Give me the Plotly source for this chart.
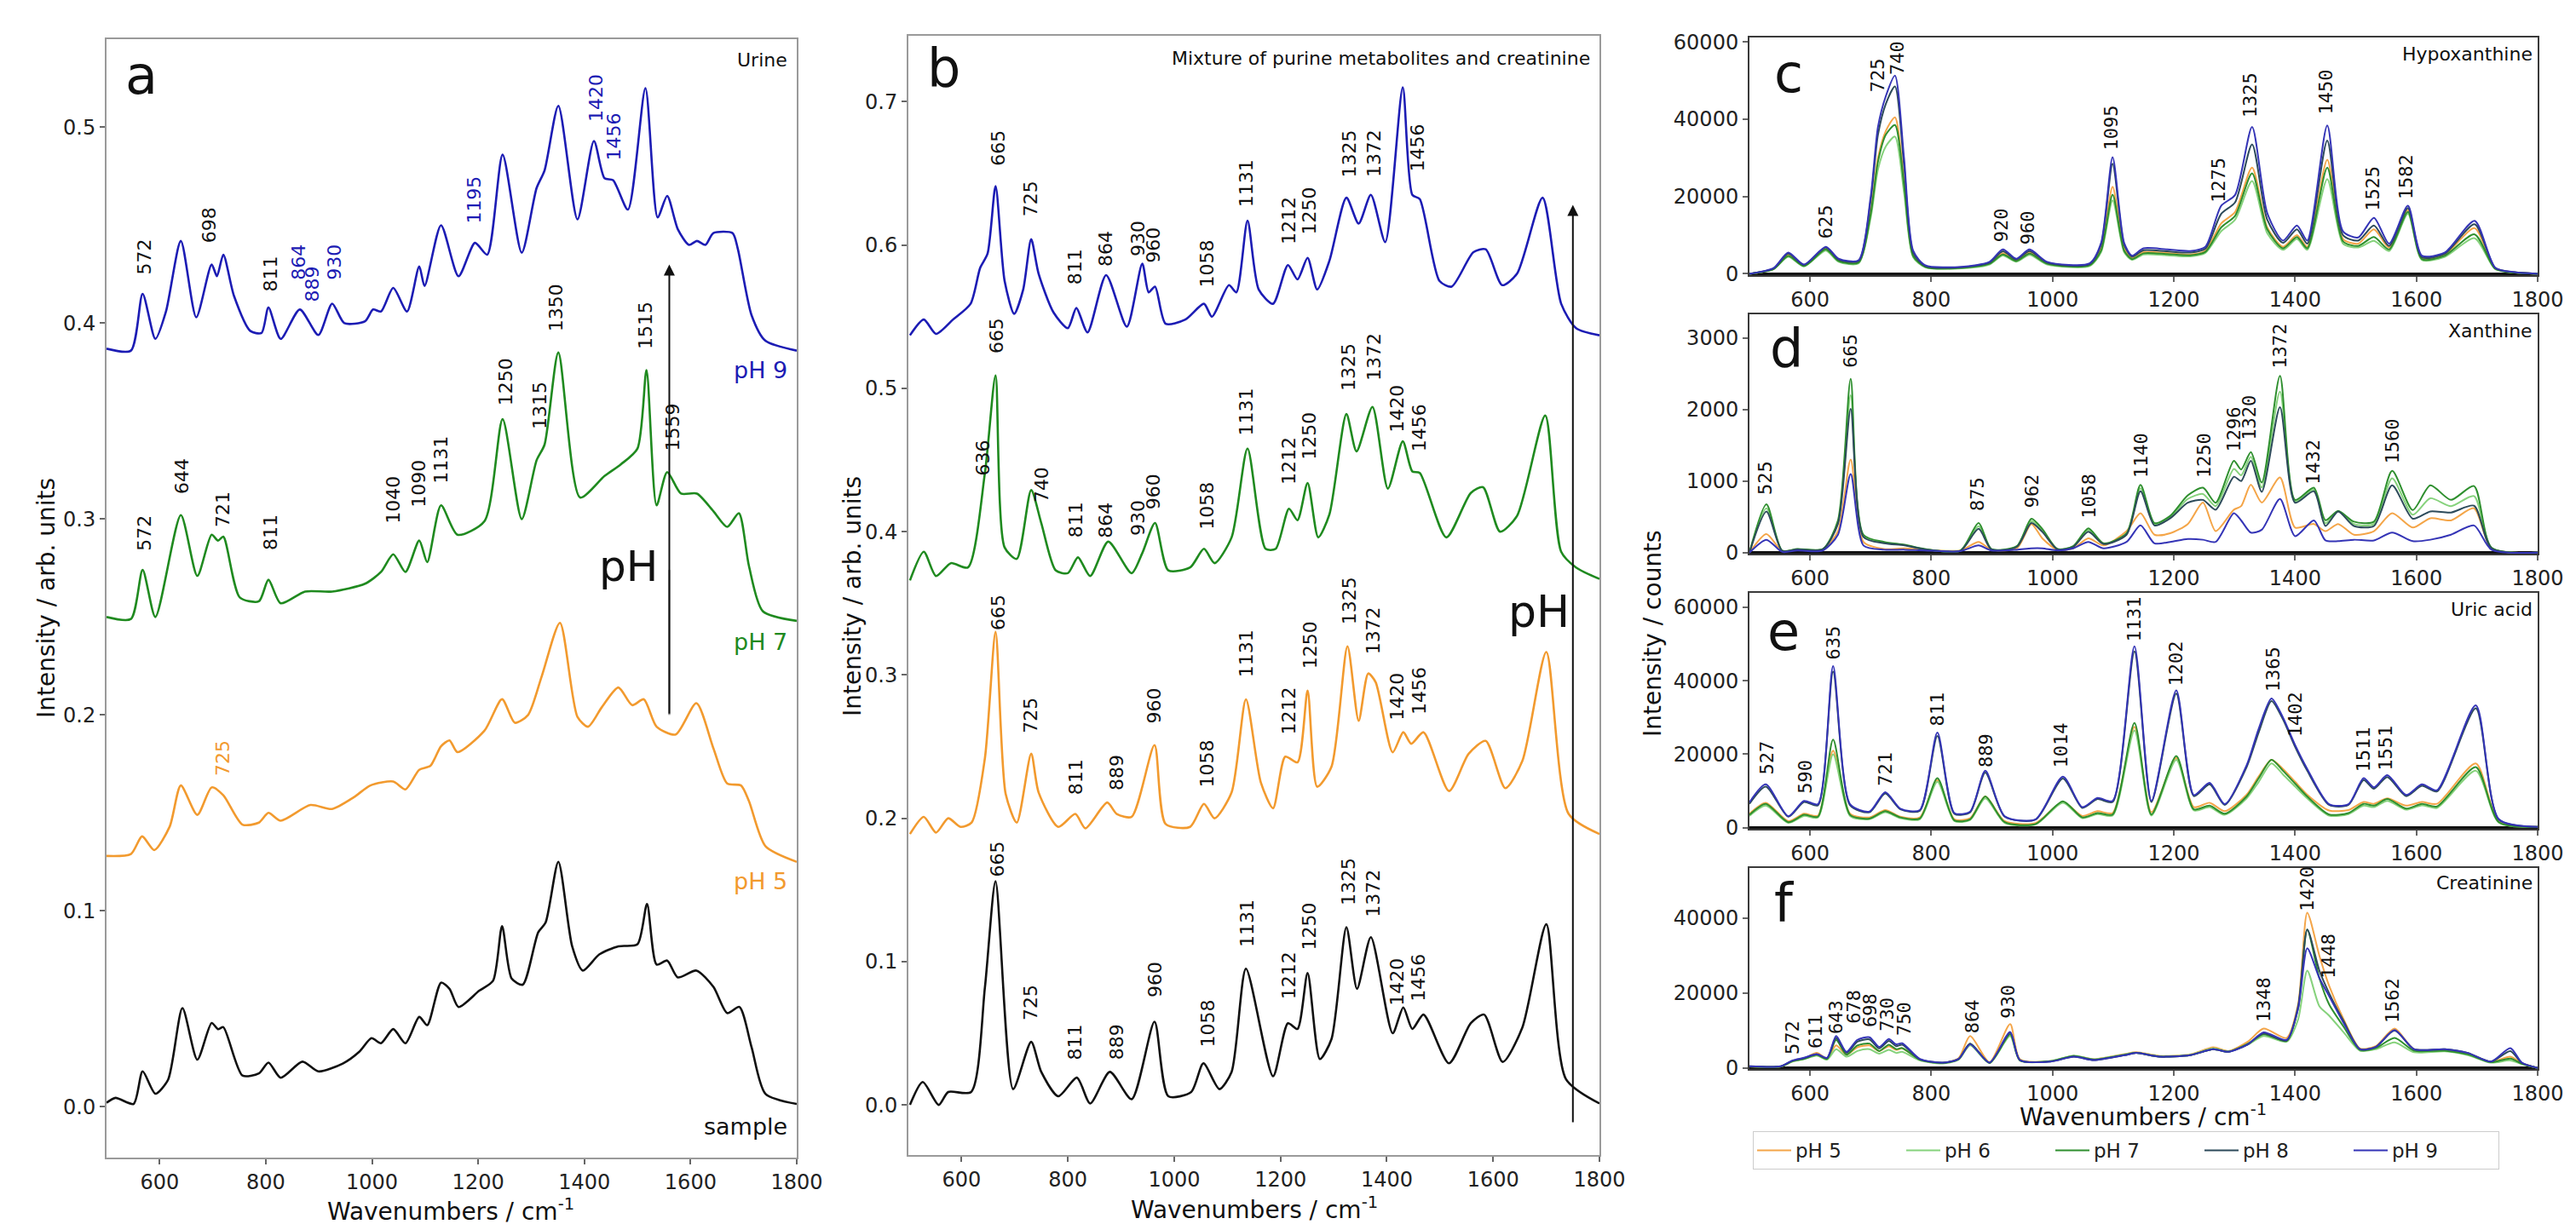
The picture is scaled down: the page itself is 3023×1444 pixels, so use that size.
import plotly.graph_objects as go

W, H = 3023, 1444

# ---------------- data: panel a (urine) ----------------
A9_X = [500, 546, 568, 592, 612, 640, 669, 698, 708, 720, 740, 771, 792, 805, 828, 864, 899, 925, 948, 987,
        1002, 1017, 1040, 1066, 1089, 1099, 1130, 1163, 1194, 1217, 1246, 1282, 1310, 1325, 1351, 1387, 1418,
        1438, 1454, 1482, 1515, 1538, 1556, 1576, 1597, 1612, 1628, 1643, 1679, 1689, 1715, 1741, 1800]
A9_Y = [0.387, 0.386, 0.415, 0.392, 0.406, 0.442, 0.403, 0.430, 0.424, 0.435, 0.414, 0.396, 0.395, 0.408, 0.392,
        0.407, 0.394, 0.410, 0.400, 0.401, 0.407, 0.406, 0.418, 0.406, 0.429, 0.419, 0.450, 0.424, 0.441, 0.435,
        0.486, 0.436, 0.469, 0.478, 0.511, 0.453, 0.493, 0.474, 0.473, 0.458, 0.520, 0.454, 0.465, 0.448, 0.440,
        0.442, 0.440, 0.446, 0.446, 0.438, 0.404, 0.391, 0.386]
A7_X = [500, 546, 568, 592, 640, 671, 698, 710, 720, 751, 787, 805, 828, 874, 925, 987, 1017, 1040, 1063, 1089,
        1104, 1130, 1161, 1212, 1246, 1282, 1310, 1325, 1351, 1392, 1438, 1469, 1500, 1517, 1536, 1556, 1582,
        1612, 1643, 1669, 1691, 1710, 1736, 1800]
A7_Y = [0.250, 0.249, 0.274, 0.250, 0.302, 0.271, 0.292, 0.289, 0.291, 0.260, 0.258, 0.269, 0.257, 0.263, 0.263,
        0.267, 0.273, 0.282, 0.273, 0.289, 0.278, 0.307, 0.292, 0.299, 0.351, 0.300, 0.330, 0.338, 0.385, 0.311,
        0.322, 0.328, 0.336, 0.376, 0.307, 0.324, 0.313, 0.313, 0.304, 0.296, 0.303, 0.276, 0.253, 0.248]
A5_X = [500, 546, 567, 590, 619, 640, 671, 698, 720, 756, 787, 805, 828, 884, 925, 966, 997, 1040, 1063, 1089,
        1110, 1130, 1146, 1161, 1212, 1245, 1269, 1294, 1320, 1354, 1387, 1407, 1433, 1464, 1490, 1512, 1536,
        1572, 1611, 1643, 1669, 1695, 1710, 1741, 1800]
A5_Y = [0.128, 0.129, 0.138, 0.131, 0.143, 0.164, 0.149, 0.163, 0.159, 0.144, 0.145, 0.150, 0.146, 0.154, 0.152,
        0.158, 0.164, 0.166, 0.162, 0.172, 0.174, 0.184, 0.187, 0.181, 0.192, 0.208, 0.196, 0.200, 0.220, 0.247,
        0.199, 0.194, 0.204, 0.214, 0.205, 0.208, 0.194, 0.190, 0.206, 0.183, 0.165, 0.164, 0.156, 0.133, 0.125]
AS_X = [500, 517, 551, 568, 592, 616, 643, 671, 698, 710, 720, 756, 787, 805, 828, 869, 899, 945, 976, 999,
        1017, 1040, 1063, 1089, 1104, 1130, 1146, 1163, 1202, 1228, 1245, 1263, 1284, 1313, 1327, 1351, 1377,
        1397, 1428, 1464, 1500, 1518, 1536, 1556, 1576, 1611, 1643, 1669, 1692, 1715, 1741, 1800]
AS_Y = [0.002, 0.0045, 0.0014, 0.018, 0.0066, 0.0138, 0.0503, 0.024, 0.0427, 0.0396, 0.0406, 0.0159, 0.017,
        0.0225, 0.0148, 0.023, 0.018, 0.022, 0.028, 0.035, 0.0324, 0.0396, 0.0324, 0.0458, 0.0416, 0.0633, 0.0602,
        0.0509, 0.0592, 0.0643, 0.0922, 0.0654, 0.0623, 0.089, 0.094, 0.125, 0.0819, 0.0695, 0.0777, 0.0819,
        0.0829, 0.1035, 0.0726, 0.0746, 0.066, 0.0695, 0.0612, 0.0478, 0.0509, 0.0303, 0.0066, 0.0014]

# ---------------- data: panel b (mixture) ----------------
B9_X = [503, 529, 552, 584, 617, 635, 649, 664, 681, 699, 716, 731, 745, 773, 800, 816, 837, 872, 911, 940,
        952, 964, 984, 1021, 1056, 1071, 1103, 1117, 1138, 1159, 1186, 1214, 1232, 1251, 1269, 1292, 1324, 1347,
        1370, 1397, 1430, 1448, 1462, 1499, 1522, 1563, 1586, 1617, 1645, 1693, 1728, 1756, 1800]
B9_Y = [0.537, 0.548, 0.538, 0.548, 0.559, 0.584, 0.594, 0.641, 0.575, 0.552, 0.569, 0.604, 0.580, 0.553, 0.542,
        0.556, 0.539, 0.579, 0.543, 0.587, 0.567, 0.571, 0.545, 0.548, 0.559, 0.550, 0.572, 0.567, 0.617, 0.569,
        0.559, 0.586, 0.576, 0.591, 0.569, 0.589, 0.633, 0.615, 0.635, 0.602, 0.710, 0.635, 0.632, 0.575, 0.571,
        0.595, 0.597, 0.572, 0.580, 0.633, 0.559, 0.542, 0.537]
B7_X = [503, 529, 552, 580, 612, 644, 664, 681, 704, 731, 750, 777, 800, 819, 842, 876, 920, 940, 964, 989,
        1030, 1056, 1076, 1108, 1138, 1172, 1191, 1216, 1232, 1251, 1271, 1292, 1324, 1343, 1373, 1402, 1430,
        1448, 1462, 1512, 1558, 1581, 1613, 1645, 1698, 1728, 1756, 1800]
B7_Y = [0.366, 0.386, 0.369, 0.378, 0.375, 0.441, 0.509, 0.389, 0.381, 0.429, 0.406, 0.373, 0.371, 0.382, 0.369,
        0.393, 0.371, 0.385, 0.406, 0.373, 0.375, 0.388, 0.378, 0.396, 0.458, 0.388, 0.388, 0.416, 0.408, 0.434,
        0.396, 0.412, 0.482, 0.456, 0.487, 0.430, 0.463, 0.442, 0.441, 0.396, 0.427, 0.431, 0.400, 0.411, 0.481,
        0.386, 0.375, 0.367]
B5_X = [503, 529, 552, 575, 598, 619, 644, 664, 683, 704, 731, 745, 782, 814, 833, 874, 892, 920, 963, 984,
        1030, 1056, 1076, 1108, 1135, 1163, 1186, 1209, 1232, 1251, 1269, 1296, 1326, 1347, 1365, 1379, 1411,
        1431, 1446, 1469, 1517, 1554, 1586, 1623, 1655, 1700, 1742, 1800]
B5_Y = [0.189, 0.201, 0.190, 0.200, 0.194, 0.197, 0.242, 0.330, 0.217, 0.197, 0.245, 0.218, 0.194, 0.203, 0.193,
        0.211, 0.203, 0.201, 0.251, 0.196, 0.194, 0.210, 0.200, 0.218, 0.283, 0.225, 0.207, 0.243, 0.239, 0.289,
        0.222, 0.236, 0.320, 0.268, 0.301, 0.295, 0.246, 0.260, 0.252, 0.260, 0.219, 0.245, 0.254, 0.221, 0.240,
        0.316, 0.203, 0.189]
BS_X = [503, 527, 557, 575, 618, 644, 664, 697, 731, 750, 782, 817, 842, 879, 920, 963, 989, 1032, 1055, 1085,
        1108, 1135, 1186, 1214, 1232, 1251, 1274, 1296, 1324, 1344, 1370, 1411, 1431, 1448, 1469, 1517, 1558,
        1583, 1618, 1655, 1700, 1737, 1800]
BS_Y = [0.000, 0.016, 0.000, 0.009, 0.009, 0.082, 0.156, 0.011, 0.044, 0.023, 0.006, 0.019, 0.001, 0.023, 0.004,
        0.058, 0.006, 0.009, 0.029, 0.011, 0.023, 0.095, 0.020, 0.057, 0.053, 0.092, 0.032, 0.046, 0.124, 0.081,
        0.117, 0.050, 0.068, 0.053, 0.063, 0.029, 0.057, 0.063, 0.030, 0.054, 0.126, 0.018, 0.001]

# ---------------- data: panel c (hypoxanthine) ----------------
XC = [500, 540, 564, 590, 626, 647, 680, 700, 712, 725, 740, 755, 770, 790, 850, 896, 918, 940, 962, 991,
      1061, 1080, 1099, 1118, 1131, 1150, 1189, 1227, 1252, 1278, 1301, 1329, 1354, 1380, 1403, 1420, 1453, 1479,
      1504, 1530, 1555, 1586, 1609, 1647, 1696, 1730, 1762, 1800]
C_PH5 = [0, 1300, 4800, 2100, 6500, 3400, 3000, 16000, 30000, 37000, 40500, 24000, 4800, 1900, 1600, 2700, 5300,
         3500, 5500, 2700, 2300, 6500, 22500, 6500, 4000, 5600, 5400, 5000, 6000, 13000, 16000, 27500, 12000, 7000,
         10000, 7000, 29500, 9000, 7800, 11500, 6800, 16500, 4000, 5000, 11800, 1400, 350, 0]
C_PH6 = [0, 1200, 4400, 1900, 6000, 3100, 2700, 14500, 27000, 33000, 35500, 21000, 4300, 1700, 1400, 2400, 4700,
         3100, 4900, 2400, 2000, 5600, 19000, 5600, 3600, 5000, 4800, 4500, 5400, 11000, 14000, 24000, 10500, 6200,
         9000, 6200, 24500, 7800, 6800, 8500, 5900, 15500, 3600, 4400, 9200, 1200, 300, 0]
C_PH7 = [0, 1250, 4600, 2000, 6300, 3300, 2900, 15500, 29000, 36000, 38500, 23000, 4600, 1800, 1500, 2600, 5000,
         3300, 5200, 2600, 2200, 6000, 20500, 6000, 3800, 5300, 5100, 4800, 5700, 12000, 15000, 26000, 11500, 6600,
         9500, 6600, 27500, 8400, 7200, 9500, 6300, 16000, 3800, 4700, 10200, 1300, 300, 0]
C_PH8 = [0, 1400, 5200, 2300, 6800, 3700, 3300, 19000, 36000, 44000, 48500, 28000, 5500, 2000, 1700, 2900, 5800,
         3700, 5900, 2900, 2500, 7500, 28500, 7500, 4400, 6100, 5800, 5500, 6500, 15500, 18500, 33500, 14000, 8000,
         11500, 7800, 34500, 10000, 8600, 12500, 7200, 17000, 4300, 5200, 12800, 1500, 400, 0]
C_PH9 = [0, 1500, 5500, 2400, 7000, 3900, 3500, 20000, 38000, 46000, 51300, 30000, 6000, 2200, 1800, 3100, 6300,
         3900, 6300, 3100, 2700, 8000, 30200, 8000, 4700, 6600, 6300, 5900, 7000, 17600, 20400, 38000, 15700, 8600,
         12500, 8600, 38400, 11000, 9400, 14500, 7800, 17600, 4700, 5500, 13700, 1600, 400, 0]

# ---------------- data: panel d (xanthine) ----------------
XD = [500, 528, 554, 579, 621, 646, 667, 688, 722, 756, 789, 848, 878, 899, 941, 965, 983, 1008, 1034, 1059,
      1084, 1122, 1145, 1168, 1194, 1223, 1248, 1269, 1299, 1311, 1327, 1345, 1375, 1400, 1431, 1450, 1471, 1497,
      1530, 1560, 1594, 1623, 1657, 1695, 1724, 1800]
D_PH5 = [0, 260, 20, 40, 40, 300, 1300, 150, 50, 60, 40, 30, 150, 40, 60, 400, 200, 40, 60, 200, 100, 300, 550,
         250, 270, 400, 700, 300, 600, 650, 950, 700, 1050, 350, 400, 300, 400, 250, 300, 550, 350, 480, 450, 620,
         60, 0]
D_PH6 = [0, 620, 26, 48, 48, 420, 2200, 230, 140, 105, 48, 26, 370, 48, 85, 440, 310, 48, 85, 315, 125, 260, 900,
         395, 495, 750, 820, 650, 1170, 1080, 1340, 910, 2250, 715, 880, 410, 578, 400, 400, 1040, 530, 760, 650,
         790, 65, 0]
D_PH7 = [0, 676, 28, 50, 50, 450, 2430, 250, 150, 110, 50, 28, 413, 50, 90, 474, 332, 50, 90, 340, 130, 271, 948,
         413, 514, 800, 907, 697, 1284, 1162, 1405, 980, 2470, 737, 907, 453, 583, 433, 433, 1142, 595, 940, 737,
         931, 69, 0]
D_PH8 = [0, 575, 25, 45, 45, 400, 2010, 220, 130, 100, 45, 25, 332, 45, 80, 413, 290, 45, 80, 291, 120, 250, 858,
         380, 480, 697, 737, 600, 1061, 1000, 1284, 850, 2033, 697, 858, 372, 575, 372, 372, 940, 474, 575, 560,
         656, 60, 0]
D_PH9 = [0, 180, 10, 30, 30, 250, 1100, 100, 40, 40, 30, 20, 100, 30, 40, 60, 60, 30, 60, 150, 60, 150, 380, 130,
         150, 190, 180, 150, 550, 450, 280, 320, 750, 230, 450, 170, 160, 180, 170, 280, 160, 180, 250, 380, 40, 0]

# ---------------- data: panel e (uric acid) ----------------
XE = [500, 527, 564, 590, 613, 638, 666, 698, 724, 749, 781, 810, 838, 864, 889, 921, 972, 1017, 1049, 1074,
      1099, 1135, 1163, 1204, 1233, 1259, 1284, 1320, 1340, 1361, 1380, 1400, 1420, 1456, 1488, 1513, 1530, 1552,
      1583, 1609, 1634, 1698, 1736, 1800]
E_PH5 = [3800, 6800, 1800, 3800, 3300, 21000, 3800, 2800, 4800, 3000, 2800, 13000, 2300, 2600, 8500, 1800, 1300,
         7000, 3200, 4500, 4000, 27500, 4200, 19000, 5600, 6800, 4500, 9000, 14000, 18500, 16000, 12500, 9000, 4700,
         4800, 7000, 6500, 8000, 6000, 7000, 6500, 17500, 1600, 200]
E_PH6 = [3200, 6000, 1300, 3200, 2800, 20000, 3200, 2300, 4200, 2600, 2300, 12500, 1800, 2100, 8000, 1300, 900,
         6800, 2600, 3700, 3300, 26500, 3300, 18500, 4700, 5600, 3500, 8000, 12500, 17500, 14500, 11200, 8000, 3300,
         3700, 6000, 5600, 7300, 4900, 6100, 5400, 15500, 1400, 200]
E_PH7 = [3500, 6500, 1500, 3500, 3000, 24000, 3500, 2500, 4500, 2800, 2500, 13500, 2000, 2300, 8500, 1500, 1000,
         7200, 2800, 4000, 3600, 28500, 3600, 19500, 5000, 6000, 3800, 8500, 13500, 18500, 15500, 12000, 8500, 3600,
         4000, 6500, 6000, 7800, 5200, 6500, 5800, 16500, 1500, 200]
E_PH8 = [6500, 11200, 3000, 7000, 6100, 42500, 6100, 4200, 9300, 5000, 4600, 25000, 3800, 4200, 15000, 3000, 2200,
         13400, 5400, 7800, 7000, 48000, 7000, 36500, 8600, 11800, 6200, 16500, 26000, 34500, 29500, 22000, 15500,
         6200, 6200, 13000, 10600, 13800, 8600, 11400, 9900, 32500, 2200, 250]
E_PH9 = [6900, 11800, 3100, 7300, 6400, 44000, 6400, 4400, 9700, 5200, 4800, 25900, 4000, 4400, 15500, 3100, 2300,
         13900, 5600, 8100, 7300, 49400, 7300, 37400, 8900, 12200, 6400, 17000, 27000, 35200, 30000, 22500, 16000,
         6400, 6400, 13500, 11000, 14300, 8900, 11800, 10200, 33300, 2300, 250]

# ---------------- data: panel f (creatinine) ----------------
XF = [500, 552, 571, 590, 611, 628, 643, 660, 678, 698, 714, 730, 742, 752, 781, 819, 845, 864, 896, 930, 946,
      997, 1035, 1068, 1119, 1138, 1176, 1227, 1265, 1290, 1322, 1348, 1386, 1405, 1420, 1440, 1456, 1480, 1507,
      1533, 1564, 1596, 1647, 1685, 1723, 1755, 1774, 1800]
F_PH5 = [400, 400, 1800, 2500, 4000, 2600, 6000, 3500, 5500, 6000, 4500, 5800, 4800, 5200, 2200, 1300, 2600, 8500,
         1500, 11700, 2300, 1800, 3200, 2300, 3700, 4200, 3200, 3600, 5500, 4500, 7000, 10500, 8000, 17000, 41500,
         30000, 22000, 13000, 5200, 5800, 10500, 5000, 4800, 3800, 1600, 3000, 1200, 0]
F_PH6 = [380, 380, 1700, 2300, 3300, 2200, 5000, 3000, 4500, 5000, 3800, 4800, 4000, 4300, 2000, 1200, 2200, 6000,
         1300, 8500, 2000, 1800, 3300, 2300, 3600, 4100, 3100, 3500, 5200, 4400, 6200, 8500, 7000, 13000, 26000,
         16500, 14000, 9500, 4600, 5000, 6800, 4200, 4400, 3400, 1400, 2000, 1000, 0]
F_PH7 = [400, 400, 1800, 2400, 3500, 2400, 7500, 3500, 6000, 6500, 4500, 6200, 5000, 5300, 2200, 1300, 2300, 6500,
         1300, 9000, 2000, 1800, 3200, 2200, 3500, 4000, 3000, 3400, 5000, 4300, 6500, 9000, 7200, 16000, 37000,
         24000, 17000, 11000, 4800, 5300, 8000, 4600, 4600, 3600, 1500, 2500, 1100, 0]
F_PH8 = [420, 420, 1900, 2600, 3600, 2600, 8000, 4000, 7000, 7600, 5200, 7200, 5800, 6200, 2300, 1400, 2400, 6500,
         1400, 9400, 2100, 1700, 3000, 2100, 3400, 4000, 3000, 3400, 5000, 4300, 6300, 9200, 7300, 16500, 37000,
         26000, 20000, 12500, 5000, 5600, 10000, 5000, 5000, 4000, 1700, 4500, 1300, 0]
F_PH9 = [450, 450, 2000, 2700, 3700, 2700, 8500, 4300, 7500, 8200, 5600, 7700, 6300, 6600, 2400, 1400, 2400, 6300,
         1400, 9600, 2100, 1700, 3000, 2100, 3400, 4000, 3000, 3400, 5000, 4300, 6300, 9500, 7500, 15900, 32000,
         24000, 19200, 12000, 5000, 5600, 10100, 5000, 5000, 4000, 1700, 5300, 1400, 0]

PH_NAMES = ["pH 5", "pH 6", "pH 7", "pH 8", "pH 9"]
X_TICKS = [600, 800, 1000, 1200, 1400, 1600, 1800]

# peak labels: (text, wavenumber, value at label foot, series)
LABELS_A = [("572", 571, 0.424, "k"), ("698", 694, 0.440, "k"), ("811", 809, 0.415, "k"), ("864", 862, 0.421, "b"),
            ("889", 887, 0.410, "b"), ("930", 928, 0.421, "b"), ("1195", 1192, 0.450, "b"), ("1420", 1423, 0.502, "b"),
            ("1456", 1456, 0.482, "b"), ("1350", 1348, 0.395, "k"), ("1515", 1515, 0.386, "k"), ("1250", 1251, 0.357, "k"),
            ("1315", 1317, 0.345, "k"), ("1559", 1566, 0.334, "k"), ("1131", 1130, 0.317, "k"), ("1090", 1089, 0.305, "k"),
            ("1040", 1040, 0.297, "k"), ("644", 643, 0.312, "k"), ("721", 720, 0.295, "k"), ("572", 571, 0.283, "k"),
            ("811", 809, 0.283, "k"), ("725", 720, 0.168, "o")]
LABELS_B = [("665", 670, 0.654), ("725", 730, 0.619), ("811", 814, 0.571), ("864", 871, 0.584), ("930", 933, 0.591),
            ("960", 961, 0.586), ("1058", 1062, 0.569), ("1131", 1136, 0.625), ("1212", 1216, 0.599),
            ("1250", 1255, 0.606), ("1325", 1329, 0.646), ("1372", 1375, 0.646), ("1456", 1457, 0.650),
            ("665", 665, 0.523), ("636", 640, 0.438), ("740", 750, 0.419), ("811", 814, 0.3945), ("864", 871, 0.3945),
            ("930", 933, 0.396), ("960", 961, 0.414), ("1058", 1062, 0.400), ("1131", 1136, 0.4656),
            ("1212", 1216, 0.4314), ("1250", 1255, 0.449), ("1325", 1329, 0.497), ("1372", 1375, 0.504),
            ("1420", 1420, 0.468), ("1456", 1460, 0.4546),
            ("665", 670, 0.330), ("725", 730, 0.2585), ("811", 814, 0.215), ("889", 892, 0.218), ("960", 963, 0.2647),
            ("1058", 1062, 0.220), ("1131", 1136, 0.297), ("1212", 1216, 0.257), ("1250", 1255, 0.303),
            ("1325", 1329, 0.334), ("1372", 1375, 0.313), ("1420", 1420, 0.267), ("1456", 1460, 0.271),
            ("665", 668, 0.1577), ("725", 730, 0.058), ("811", 814, 0.030), ("889", 892, 0.030), ("960", 963, 0.0737),
            ("1058", 1062, 0.0387), ("1131", 1136, 0.1087), ("1212", 1216, 0.0723), ("1250", 1255, 0.1067),
            ("1325", 1329, 0.138), ("1372", 1375, 0.1297), ("1420", 1420, 0.068), ("1456", 1460, 0.0709)]
LABELS_C = [("625", 625, 8600), ("725", 711, 46600), ("740", 743, 51000), ("920", 915, 7800), ("960", 959, 7000),
            ("1095", 1096, 31400), ("1275", 1274, 18000), ("1325", 1326, 40000), ("1450", 1451, 40800),
            ("1525", 1529, 15700), ("1582", 1583, 18800)]
LABELS_D = [("525", 527, 786), ("665", 667, 2560), ("875", 875, 555), ("962", 966, 595), ("1058", 1059, 454),
            ("1140", 1146, 1020), ("1250", 1250, 1020), ("1296", 1299, 1385), ("1320", 1324, 1547),
            ("1372", 1375, 2550), ("1432", 1429, 919), ("1560", 1560, 1215)]
LABELS_E = [("527", 529, 13900), ("590", 592, 8900), ("635", 638, 45300), ("721", 724, 11000), ("811", 810, 27100),
            ("889", 889, 15900), ("1014", 1014, 15900), ("1131", 1135, 50200), ("1202", 1204, 38200),
            ("1365", 1364, 36600), ("1402", 1400, 24200), ("1511", 1513, 14700), ("1551", 1548, 15100)]
LABELS_F = [("572", 571, 3000), ("611", 609, 4600), ("643", 643, 8500), ("678", 673, 11400), ("698", 698, 10400),
            ("730", 727, 9200), ("750", 755, 8200), ("864", 867, 8800), ("930", 927, 12700), ("1348", 1348, 11700),
            ("1420", 1420, 41400), ("1448", 1456, 23300), ("1562", 1560, 11400)]

# ---------------- styling / layout ----------------
FONT = "DejaVu Sans"
COL_BLUE, COL_GREEN, COL_ORANGE, COL_BLACK = "#1c1cb4", "#1f8a1f", "#f29a2e", "#111111"
PH_COLORS = ["#f4a548", "#86d27c", "#2e8f2e", "#2c4a5a", "#3434b6"]


def fx(px):
    return px / W


def fy(py):
    return 1 - py / H


fig = go.Figure()

# panel boxes in pixels: (left, top, right, bottom)
BOX = {
    "a": (117, 38, 927, 1351),
    "b": (1058, 34, 1869, 1348),
    "c": (2045, 36, 2970, 315),
    "d": (2045, 361, 2970, 642),
    "e": (2045, 688, 2970, 965),
    "f": (2045, 1011, 2970, 1247),
}
YRANGE = {
    "a": [-0.026, 0.545],
    "b": [-0.035, 0.746],
    "c": [-350, 61160],
    "d": [-15, 3332],
    "e": [-300, 63940],
    "f": [-300, 53440],
}
YTICKS = {
    "a": ([0, 0.1, 0.2, 0.3, 0.4, 0.5], ["0.0", "0.1", "0.2", "0.3", "0.4", "0.5"]),
    "b": ([0, 0.1, 0.2, 0.3, 0.4, 0.5, 0.6, 0.7], ["0.0", "0.1", "0.2", "0.3", "0.4", "0.5", "0.6", "0.7"]),
    "c": ([0, 20000, 40000, 60000], ["0", "20000", "40000", "60000"]),
    "d": ([0, 1000, 2000, 3000], ["0", "1000", "2000", "3000"]),
    "e": ([0, 20000, 40000, 60000], ["0", "20000", "40000", "60000"]),
    "f": ([0, 20000, 40000], ["0", "20000", "40000"]),
}
ORDER = ["a", "b", "c", "d", "e", "f"]
layout_axes = {}
for i, key in enumerate(ORDER):
    l, t, r, b = BOX[key]
    sfx = "" if i == 0 else str(i + 1)
    frame = "#9a9a9a" if key in ("a", "b") else "#3a3a3a"
    layout_axes["xaxis" + sfx] = dict(
        domain=[fx(l), fx(r)], range=[500, 1800], anchor="y" + sfx,
        tickvals=X_TICKS, ticktext=[str(v) for v in X_TICKS],
        ticks="outside", ticklen=6, tickwidth=1.5, tickcolor="#666",
        showline=True, linecolor=frame, linewidth=2, mirror=True,
        showgrid=False, zeroline=False,
        tickfont=dict(family=FONT, size=24, color="#222"), automargin=False,
    )
    layout_axes["yaxis" + sfx] = dict(
        domain=[fy(b), fy(t)], range=YRANGE[key], anchor="x" + sfx,
        tickvals=YTICKS[key][0], ticktext=YTICKS[key][1],
        ticks="outside", ticklen=6, tickwidth=1.5, tickcolor="#666",
        showline=True, linecolor=frame, linewidth=2, mirror=True,
        showgrid=False, zeroline=key not in ("a", "b"), zerolinecolor="#111", zerolinewidth=3,
        tickfont=dict(family=FONT, size=24, color="#222"), automargin=False,
    )

# ---- traces a ----
for xs, ys, col in [(AS_X, AS_Y, COL_BLACK), (A5_X, A5_Y, COL_ORANGE), (A7_X, A7_Y, COL_GREEN), (A9_X, A9_Y, COL_BLUE)]:
    fig.add_trace(go.Scatter(x=xs, y=ys, mode="lines", line=dict(color=col, width=2.6, shape="spline", smoothing=0.7),
                             showlegend=False, xaxis="x", yaxis="y", hoverinfo="skip"))
# ---- traces b ----
for xs, ys, col in [(BS_X, BS_Y, COL_BLACK), (B5_X, B5_Y, COL_ORANGE), (B7_X, B7_Y, COL_GREEN), (B9_X, B9_Y, COL_BLUE)]:
    fig.add_trace(go.Scatter(x=xs, y=ys, mode="lines", line=dict(color=col, width=2.6, shape="spline", smoothing=0.7),
                             showlegend=False, xaxis="x2", yaxis="y2", hoverinfo="skip"))

# ---- traces c-f ----
PANEL_SERIES = [
    ("x3", "y3", XC, [C_PH5, C_PH6, C_PH7, C_PH8, C_PH9]),
    ("x4", "y4", XD, [D_PH5, D_PH6, D_PH7, D_PH8, D_PH9]),
    ("x5", "y5", XE, [E_PH5, E_PH6, E_PH7, E_PH8, E_PH9]),
    ("x6", "y6", XF, [F_PH5, F_PH6, F_PH7, F_PH8, F_PH9]),
]
for pi, (xa, ya, xs, series) in enumerate(PANEL_SERIES):
    for si, ys in enumerate(series):
        fig.add_trace(go.Scatter(
            x=xs, y=ys, mode="lines", name=PH_NAMES[si], legendgroup=PH_NAMES[si],
            line=dict(color=PH_COLORS[si], width=2, shape="spline", smoothing=0.7),
            showlegend=(pi == 3), xaxis=xa, yaxis=ya, hoverinfo="skip"))

ann = []


def peak(text, x, y, xr, yr, color="#111", size=22, fam=FONT):
    ann.append(dict(text=text, x=x, y=y, xref=xr, yref=yr, showarrow=False, textangle=-90,
                    xanchor="center", yanchor="bottom", font=dict(family=fam, size=size, color=color)))


LAB_COL = {"k": "#111", "b": COL_BLUE, "o": COL_ORANGE}
for t, x, y, c in LABELS_A:
    peak(t, x, y, "x", "y", LAB_COL[c])
for t, x, y in LABELS_B:
    peak(t, x, y, "x2", "y2")
for labels, xr, yr in [(LABELS_C, "x3", "y3"), (LABELS_D, "x4", "y4"), (LABELS_E, "x5", "y5"), (LABELS_F, "x6", "y6")]:
    for t, x, y in labels:
        peak(t, x, y, xr, yr, size=22, fam="DejaVu Sans Mono")


def ptext(text, px, py, size, xanchor="center", yanchor="middle", angle=0, color="#111"):
    ann.append(dict(text=text, x=fx(px), y=fy(py), xref="paper", yref="paper", showarrow=False,
                    xanchor=xanchor, yanchor=yanchor, textangle=angle,
                    font=dict(family=FONT, size=size, color=color)))


# panel letters
ptext("a", 137, 80, 62, xanchor="left")
ptext("b", 1078, 72, 62, xanchor="left")
ptext("c", 2072, 79, 62, xanchor="left")
ptext("d", 2067, 400, 62, xanchor="left")
ptext("e", 2064, 733, 62, xanchor="left")
ptext("f", 2072, 1051, 62, xanchor="left")

# panel titles
ptext("Urine", 918, 62, 22, xanchor="right")
ptext("Mixture of purine metabolites and creatinine", 1860, 60, 22, xanchor="right")
ptext("Hypoxanthine", 2966, 56, 22, xanchor="right")
ptext("Xanthine", 2966, 381, 22, xanchor="right")
ptext("Uric acid", 2966, 707, 22, xanchor="right")
ptext("Creatinine", 2966, 1028, 22, xanchor="right")

# axis titles
ptext("Wavenumbers / cm<sup>-1</sup>", 521, 1412, 28)
ptext("Wavenumbers / cm<sup>-1</sup>", 1464, 1410, 28)
ptext("Wavenumbers / cm<sup>-1</sup>", 2507, 1301, 28)
ptext("Intensity / arb. units", 46, 694, 28, angle=-90)
ptext("Intensity / arb. units", 992, 692, 28, angle=-90)
ptext("Intensity / counts", 1931, 736, 28, angle=-90)

# series names in panel a
for name, yv, col in [("pH 9", 0.376, COL_BLUE), ("pH 7", 0.2375, COL_GREEN), ("pH 5", 0.115, COL_ORANGE),
                      ("sample", -0.010, COL_BLACK)]:
    ann.append(dict(text=name, x=1786, y=yv, xref="x", yref="y", showarrow=False, xanchor="right",
                    yanchor="middle", font=dict(family=FONT, size=27, color=col)))

# big pH labels
ptext("pH", 766, 657, 50, xanchor="right")
ptext("pH", 1836, 710, 52, xanchor="right")

# arrows
ann.append(dict(x=1560, y=0.43, ax=1560, ay=0.2, xref="x", yref="y", axref="x", ayref="y", text="",
                showarrow=True, arrowhead=2, arrowsize=1.3, arrowwidth=2, arrowcolor="#111"))
ann.append(dict(x=1750, y=0.628, ax=1750, ay=-0.013, xref="x2", yref="y2", axref="x2", ayref="y2", text="",
                showarrow=True, arrowhead=2, arrowsize=1.3, arrowwidth=2, arrowcolor="#111"))

shapes = [
    dict(type="line", xref="x", yref="y", x0=1560, x1=1560, y0=0.2, y1=0.274, line=dict(color="#9a9a9a", width=2.5)),
]

fig.update_layout(
    width=W, height=H, autosize=False,
    margin=dict(l=0, r=0, t=0, b=0),
    paper_bgcolor="white", plot_bgcolor="white",
    font=dict(family=FONT, color="#111"),
    annotations=ann, shapes=shapes,
    legend=dict(orientation="h", x=fx(2049), y=fy(1320), xanchor="left", yanchor="top",
                bordercolor="#cccccc", borderwidth=1, bgcolor="white",
                font=dict(family=FONT, size=23, color="#222"),
                entrywidth=120, entrywidthmode="pixels", itemwidth=40),
    **layout_axes,
)

fig.write_html("out.html")
